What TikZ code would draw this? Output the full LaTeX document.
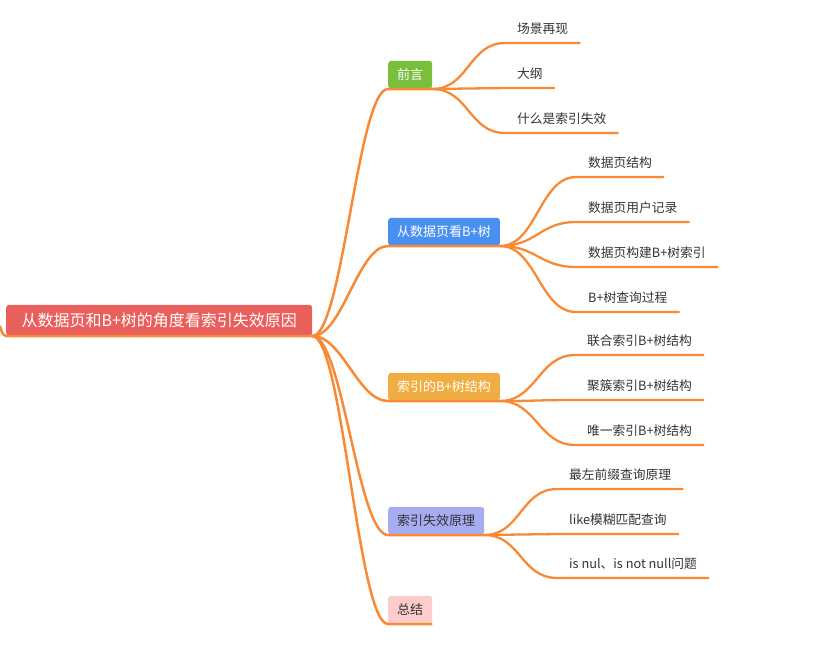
\documentclass[tikz,border=0pt]{standalone}
\usepackage{fontspec}
\setmainfont{Noto Sans CJK SC}
\usepackage{xcolor}
\usepackage{tikz}
\usetikzlibrary{positioning}
\definecolor{linkorange}{HTML}{F88A36}
\definecolor{rootred}{HTML}{E95F5B}
\definecolor{topicgreen}{HTML}{7ABF3C}
\definecolor{topicblue}{HTML}{4A90F0}
\definecolor{topicyellow}{HTML}{F0AD42}
\definecolor{topiclilac}{HTML}{A5ACF0}
\definecolor{topicpink}{HTML}{FFCCCC}
\definecolor{darktext}{HTML}{333333}
\tikzstyle{rootnode}=[rectangle,rounded corners=3pt,fill=rootred,text=white,font=\fontsize{16}{19}\selectfont,minimum height=31pt,minimum width=306pt,anchor=south west]
\tikzstyle{topicnode}=[rectangle,rounded corners=3pt,font=\fontsize{13}{15}\selectfont,minimum height=28pt,inner xsep=9pt,anchor=south west]
\tikzstyle{leafnode}=[rectangle,font=\fontsize{12.75}{15}\selectfont,text=darktext,text height=10pt,text depth=3pt,inner ysep=6pt,inner xsep=12pt,anchor=south west]
\tikzstyle{branch} = [draw=linkorange,line width=2.5pt]
\tikzstyle{leafedge} = [draw=linkorange,line width=2.3pt]

\begin{document}
\begin{tikzpicture}[x=1pt,y=-1pt]

 \useasboundingbox (0,0) rectangle (835,654);

 %root
 \node[rootnode] (root) at (6,336) {从数据页和B+树的角度看索引失效原因};
 \coordinate (rootin) at (0,329);
 \path[branch] (rootin) to[out=80,in=180,distance=5pt] (root.south west) -- (root.south east);

 %topics
   \foreach \y/\name/\label/\col/\txt in { 89/qy/前言/topicgreen/white, 246/sjy/从数据页看B+树/topicblue/white, 401/jg/索引的B+树结构/topicyellow/white, 535/sx/索引失效原理/topiclilac/darktext, 624/zj/总结/topicpink/darktext}
          \node[topicnode,fill=\col,text=\txt] (\name) at (388,\y) {\label};

  \foreach \dest in {qy, sjy, jg, sx, zj}
         \path[branch] (root.south east) to[out=0,in=180,distance=30pt] (\dest.south west) -- (\dest.south east);

 %前言
  \def\dx{505};
   \foreach \y/\name/\label in { 43/cjzx/场景再现, 88/dg/大纲, 133/sysx/什么是索引失效}
          \node[leafnode] (\name) at (\dx,\y) {\label};

  \foreach \source/ \dest in {qy/cjzx, qy/dg, qy/sysx}
         \path[leafedge] (\source.south east) to[out=0,in=180,distance=36pt] (\dest.south west) -- (\dest.south east);

 %从数据页看B+树
  \def\dx{576};
   \foreach \y/\name/\label in { 177/yjg/数据页结构, 222/yjl/数据页用户记录, 267/ygj/数据页构建B+树索引, 312/cxgc/B+树查询过程}
          \node[leafnode] (\name) at (\dx,\y) {\label};

  \foreach \source/ \dest in {sjy/yjg, sjy/yjl, sjy/ygj, sjy/cxgc}
         \path[leafedge] (\source.south east) to[out=0,in=180,distance=36pt] (\dest.south west) -- (\dest.south east);

 %索引的B+树结构
  \def\dx{575};
   \foreach \y/\name/\label in { 355/lh/联合索引B+树结构, 400/jc/聚簇索引B+树结构, 445/wy/唯一索引B+树结构}
          \node[leafnode] (\name) at (\dx,\y) {\label};

  \foreach \source/ \dest in {jg/lh, jg/jc, jg/wy}
         \path[leafedge] (\source.south east) to[out=0,in=180,distance=36pt] (\dest.south west) -- (\dest.south east);

 %索引失效原理
  \def\dx{557};
   \foreach \y/\name/\label in { 489/zzqz/最左前缀查询原理, 534/like/like模糊匹配查询, 578/null/is nul、is not null问题}
          \node[leafnode] (\name) at (\dx,\y) {\label};

  \foreach \source/ \dest in {sx/zzqz, sx/like, sx/null}
         \path[leafedge] (\source.south east) to[out=0,in=180,distance=36pt] (\dest.south west) -- (\dest.south east);

\end{tikzpicture}
\end{document}
